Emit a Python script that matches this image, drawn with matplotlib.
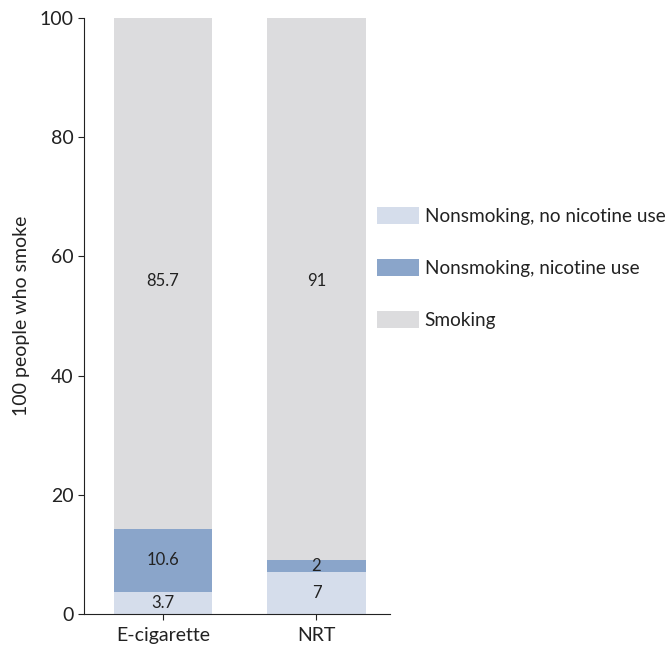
import matplotlib.pyplot as plt
import numpy as np

plt.rcParams['font.family'] = ['Lato', 'DejaVu Sans']

products = ['E-cigarette', 'NRT']
series_names = ['Nonsmoking, no nicotine use', 'Nonsmoking, nicotine use', 'Smoking']
no_nicotine = [3.7, 7]
nicotine = [10.6, 2]
smoking = [85.7, 91]
colors = ['#D5DDEB', '#8AA5CA', '#DCDCDE']

fig = plt.figure(figsize=(6.68, 6.46), dpi=100)
ax = fig.add_axes([0.1257, 0.0495, 0.4583, 0.9225])

x = np.arange(len(products))
bottom = np.zeros(len(products))
all_series = [no_nicotine, nicotine, smoking]
for i, (name, vals, col) in enumerate(zip(series_names, all_series, colors)):
    bars = ax.bar(x, vals, 0.64, bottom=bottom, color=col, label=name)
    if i < 2:
        ax.bar_label(bars, labels=[f'{v:g}' for v in vals], label_type='center',
                     fontsize=12, color='#222222')
    else:
        # top segment labels sit on a common line
        mid = np.mean(bottom + np.array(vals) / 2)
        for xi, v in zip(x, vals):
            ax.text(xi, mid, f'{v:g}', ha='center', va='center', fontsize=12, color='#222222')
    bottom += np.array(vals)

ax.set_xlim(-0.516, 1.48)
ax.set_ylim(0, 100)
ax.set_xticks(x)
ax.set_xticklabels(products)
ax.set_yticks([0, 20, 40, 60, 80, 100])
ax.tick_params(labelsize=14, length=4, color='#222222', labelcolor='#222222')
ax.tick_params(axis='x', pad=5)
ax.spines[['top', 'right']].set_visible(False)
ax.spines[['left', 'bottom']].set_color('#222222')
ax.set_ylabel('100 people who smoke', fontsize=14, color='#222222', labelpad=7)

handles, labels = ax.get_legend_handles_labels()
fig.legend(handles, labels, loc='center left', bbox_to_anchor=(377 / 668, 0.585),
           frameon=False, fontsize=13.7, borderpad=0, borderaxespad=0,
           handlelength=2.2, handleheight=1.0, handletextpad=0.3, labelspacing=1.8,
           labelcolor='#222222')

plt.savefig('out.png', dpi=100)
